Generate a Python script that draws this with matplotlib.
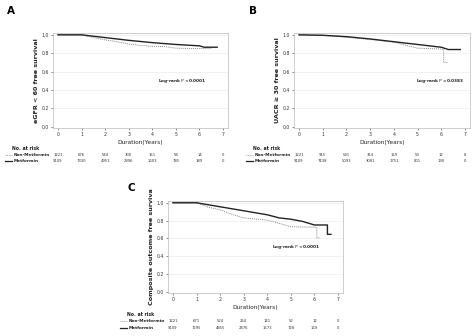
import matplotlib
matplotlib.use('Agg')
import matplotlib.pyplot as plt
import matplotlib.transforms as mtransforms

# survival curves (time, survival)
a_met_t = [0, 1.0, 2.0, 3.0, 4.0, 5.0, 6.0, 6.2, 6.75]
a_met_s = [1.0, 1.0, 0.97, 0.94, 0.915, 0.895, 0.88, 0.865, 0.865]
a_non_t = [0, 1.0, 1.5, 2.0, 2.5, 3.0, 3.5, 4.0, 4.5, 5.0, 5.5, 6.0, 6.5]
a_non_s = [1.0, 1.0, 0.97, 0.945, 0.925, 0.9, 0.885, 0.875, 0.872, 0.855, 0.852, 0.85, 0.85]

b_met_t = [0, 1.0, 2.0, 3.0, 4.0, 5.0, 6.0, 6.3, 6.8]
b_met_s = [1.0, 0.995, 0.98, 0.955, 0.925, 0.895, 0.865, 0.84, 0.84]
b_non_t = [0, 1.0, 2.0, 3.0, 4.0, 4.6, 5.0, 5.5, 6.0, 6.1, 6.1, 6.3]
b_non_s = [1.0, 0.995, 0.975, 0.95, 0.92, 0.88, 0.855, 0.85, 0.845, 0.84, 0.7, 0.7]

c_met_t = [0, 1.0, 2.0, 3.0, 4.0, 4.5, 5.0, 5.5, 6.0, 6.55, 6.55, 6.7]
c_met_s = [1.0, 1.0, 0.955, 0.91, 0.865, 0.83, 0.815, 0.79, 0.75, 0.75, 0.645, 0.645]
c_non_t = [0, 1.0, 1.5, 2.0, 2.5, 3.0, 4.0, 4.5, 5.0, 6.1, 6.1, 6.2]
c_non_s = [1.0, 1.0, 0.95, 0.92, 0.87, 0.83, 0.805, 0.77, 0.73, 0.725, 0.605, 0.605]

# numbers at risk
years = [0, 1, 2, 3, 4, 5, 6, 7]
a_risk_non = [1221, 676, 544, 300, 151, 58, 14, 0]
a_risk_met = [9109, 7330, 4953, 2996, 1603, 785, 189, 0]
b_risk_non = [1221, 915, 591, 314, 169, 59, 12, 8]
b_risk_met = [9109, 7438, 5093, 3081, 1751, 801, 190, 0]
c_risk_non = [1221, 671, 524, 264, 141, 52, 12, 0]
c_risk_met = [9109, 7295, 4855, 2876, 1573, 728, 169, 0]

W, H = 474, 336
fig = plt.figure(figsize=(W / 100, H / 100), dpi=100)


def px_axes(l, r, t, b):
    return fig.add_axes([l / W, 1 - b / H, (r - l) / W, (b - t) / H])


def panel(box, letter, letter_xy, ylabel, ptext, pxy, met, non, rnon, rmet, leg_x, rows_y):
    ax = px_axes(*box)
    ax.plot(non[0], non[1], color='#888888', lw=0.7, ls=(0, (1, 1)))
    ax.plot(met[0], met[1], color='#222222', lw=1.0)
    ax.set_xlim(-0.21, 7.21)
    ax.set_ylim(-0.015, 1.02)
    ax.set_xticks(years)
    ax.set_yticks([0, 0.2, 0.4, 0.6, 0.8, 1.0])
    ax.set_yticklabels(['0.0', '0.2', '0.4', '0.6', '0.8', '1.0'])
    ax.tick_params(labelsize=3.3, length=1.2, width=0.4, pad=1.5, colors='#333333')
    for y in [0.2, 0.4, 0.6, 0.8, 1.0]:
        ax.axhline(y, color='#e6e6e6', lw=0.4, zorder=0)
    for s in ax.spines.values():
        s.set_color('#bbbbbb')
        s.set_linewidth(0.5)
    ax.set_xlabel('Duration(Years)', fontsize=4.2, labelpad=2.5, color='#222222')
    ax.set_ylabel(ylabel, fontsize=4.6, fontweight='bold', labelpad=2, color='#222222')
    ax.text(pxy[0], pxy[1], ptext, fontsize=3.1,
            fontweight='bold', color='#222222', ha='left', va='center')
    fig.text(letter_xy[0] / W, 1 - letter_xy[1] / H, letter, fontsize=7.5,
             fontweight='bold', ha='left', va='center')

    tr = mtransforms.blended_transform_factory(ax.transData, fig.transFigure)
    y0, y1, y2 = [1 - v / H for v in rows_y]
    fig.text((leg_x + 4) / W, y0, 'No. at risk', fontsize=3.3, fontweight='bold',
             ha='left', va='center', color='#222222')
    fig.add_artist(plt.Line2D([(leg_x - 3) / W, (leg_x + 4) / W], [y1, y1],
                              color='#888888', lw=0.6, ls=(0, (1, 1))))
    fig.add_artist(plt.Line2D([(leg_x - 3) / W, (leg_x + 4) / W], [y2, y2],
                              color='#222222', lw=0.9))
    fig.text((leg_x + 6) / W, y1, 'Non-Metformin', fontsize=3.1, fontweight='bold',
             ha='left', va='center', color='#222222')
    fig.text((leg_x + 6) / W, y2, 'Metformin', fontsize=3.1, fontweight='bold',
             ha='left', va='center', color='#222222')
    for x, n1, n2 in zip(years, rnon, rmet):
        ax.text(x, y1, str(n1), transform=tr, fontsize=2.7, ha='center', va='center',
                color='#333333')
        ax.text(x, y2, str(n2), transform=tr, fontsize=2.7, ha='center', va='center',
                color='#333333')
    return ax


panel((53, 228, 33, 128), 'A', (7, 11), 'eGFR < 60 free survival',
      'Log-rank $\\it{P}$ <0.0001', (4.25, 0.5),
      (a_met_t, a_met_s), (a_non_t, a_non_s), a_risk_non, a_risk_met, 8, (148, 155, 161))
panel((294, 470, 33, 128), 'B', (249, 11), 'UACR \u2265 30 free survival',
      'Log-rank $\\it{P}$ =0.0383', (4.95, 0.5),
      (b_met_t, b_met_s), (b_non_t, b_non_s), b_risk_non, b_risk_met, 249, (148, 155, 161))
panel((168, 343, 201, 293), 'C', (127, 188), 'Composite outcome free surviva',
      'Log-rank $\\it{P}$ <0.0001', (4.2, 0.5),
      (c_met_t, c_met_s), (c_non_t, c_non_s), c_risk_non, c_risk_met, 123, (315, 321, 328))

fig.savefig('out.png', dpi=100)
